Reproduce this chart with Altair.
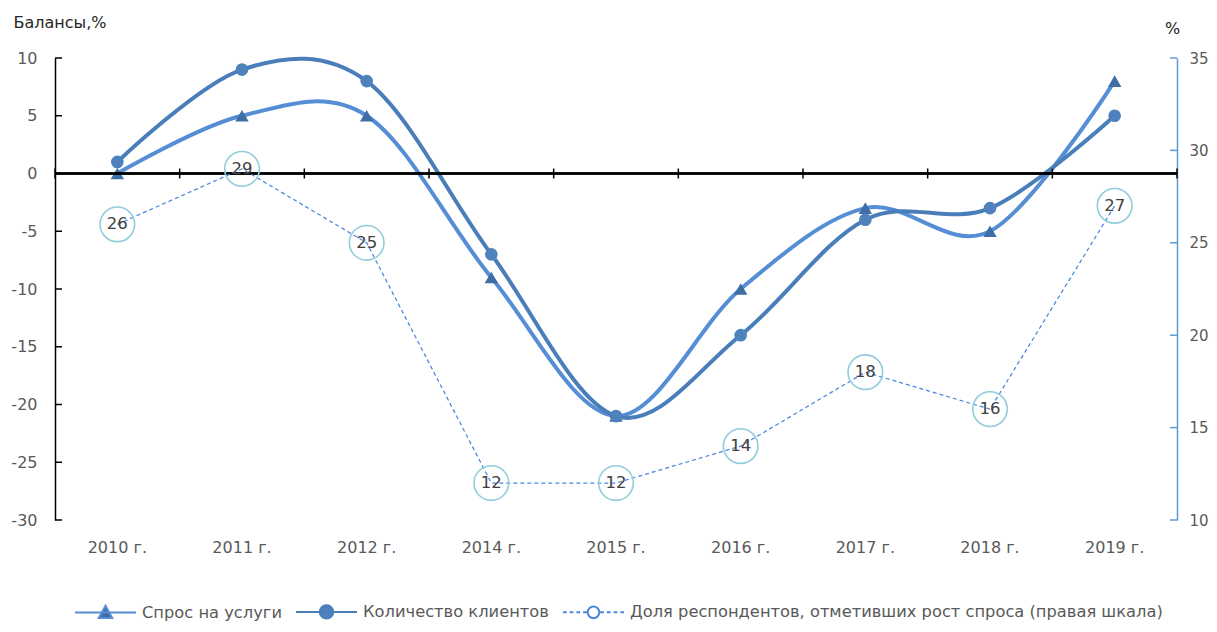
import altair as alt
import pandas as pd

# ---- data ----
years = ["2010 г.", "2011 г.", "2012 г.", "2014 г.", "2015 г.", "2016 г.", "2017 г.", "2018 г.", "2019 г."]
demand = [0, 5, 5, -9, -21, -10, -3, -5, 8]
clients = [1, 9, 8, -7, -21, -14, -4, -3, 5]
share = [26, 29, 25, 12, 12, 14, 18, 16, 27]
series_names = ["Спрос на услуги", "Количество клиентов",
                "Доля респондентов, отметивших рост спроса (правая шкала)"]
left_ticks = [-30, -25, -20, -15, -10, -5, 0, 5, 10]
right_ticks = [10, 15, 20, 25, 30, 35]

FONT = "DejaVu Sans"
W, H = 1122, 462
C1_LINE, C1_MARK = "#558ED5", "#3F6EA6"
C2_LINE, C2_MARK = "#4A7EBB", "#4F81BD"
C3_LINE, C3_MARK = "#4A86E0", "#92CDDC"
LABEL_GRAY = "#595959"

left_df = pd.DataFrame({
    "year": years * 2,
    "value": demand + clients,
    "series": [series_names[0]] * len(years) + [series_names[1]] * len(years),
})
right_df = pd.DataFrame({"year": years, "share": share})
lt_df = pd.DataFrame({"value": left_ticks})
rt_df = pd.DataFrame({"share": right_ticks})
legend_df = pd.DataFrame({"series": series_names, "year": years[:3], "value": [0, 0, 0]})

xscale = alt.Scale(domain=years, paddingInner=0, paddingOuter=0)
xaxis = alt.Axis(title=None, domain=False, ticks=False, labelAngle=0, labelPadding=19,
                 labelFont=FONT, labelFontSize=16, labelColor=LABEL_GRAY)
X = alt.X("year:N", scale=xscale, axis=xaxis, sort=years)

yl_scale = alt.Scale(domain=[-30, 10], nice=False, zero=False)
yl_axis = alt.Axis(title="Балансы,%", values=left_ticks, grid=False, ticks=False,
                   domainColor="#000000", domainWidth=1.5, labelPadding=18,
                   labelExpr="replace(datum.label, '−', '-')",
                   labelFont=FONT, labelFontSize=16, labelColor=LABEL_GRAY,
                   titleAngle=0, titleX=-42, titleY=-36, titleAlign="left",
                   titleBaseline="middle", titleFont=FONT, titleFontSize=16,
                   titleFontWeight="normal", titleColor="#262626")
YL = alt.Y("value:Q", scale=yl_scale, axis=yl_axis)

yr_scale = alt.Scale(domain=[10, 35], nice=False, zero=False)
yr_axis = alt.Axis(title="%", orient="right", values=right_ticks, grid=False, ticks=False,
                   domainColor="#5B9BD5", domainWidth=1.5, labelPadding=12,
                   labelFont=FONT, labelFontSize=15, labelColor=LABEL_GRAY,
                   titleAngle=0, titleX=-5, titleY=-30, titleAlign="center",
                   titleBaseline="middle", titleFont=FONT, titleFontSize=16,
                   titleFontWeight="normal", titleColor="#262626")
YR = alt.Y("share:Q", scale=yr_scale, axis=yr_axis)

# ---- left layers ----
lbase = alt.Chart(left_df)
s1 = lbase.transform_filter(alt.datum.series == series_names[0])
s2 = lbase.transform_filter(alt.datum.series == series_names[1])

line1 = s1.mark_line(color=C1_LINE, strokeWidth=4, interpolate="cardinal", tension=0).encode(x=X, y=YL)
line2 = s2.mark_line(color=C2_LINE, strokeWidth=4, interpolate="cardinal", tension=0).encode(x=X, y=YL)
pts1 = s1.mark_point(shape="triangle-up", filled=True, size=180, color=C1_MARK, opacity=1).encode(x=X, y=YL)
pts2 = s2.mark_point(shape="circle", filled=True, size=160, color=C2_MARK, opacity=1).encode(x=X, y=YL)

zero_line = alt.Chart(right_df).mark_rule(color="#000000", strokeWidth=1.5).encode(y=alt.datum(0))
zero_ticks = alt.Chart(right_df).mark_rule(color="#000000", strokeWidth=1.5, yOffset=-5, y2Offset=5).encode(
    x=alt.X("year:N", scale=xscale, axis=xaxis, sort=years, bandPosition=0),
    y=alt.datum(0), y2=alt.datum(0))
zero_tick_end = alt.Chart(right_df).transform_filter(alt.datum.year == years[-1]).mark_rule(
    color="#000000", strokeWidth=1.5, yOffset=-5, y2Offset=5).encode(
    x=alt.X("year:N", scale=xscale, axis=xaxis, sort=years, bandPosition=1),
    y=alt.datum(0), y2=alt.datum(0))
lticks = alt.Chart(lt_df).mark_rule(color="#000000", strokeWidth=1.5).encode(
    y=YL, x=alt.value(0), x2=alt.value(7))

# legend layer (no visible marks; legend entries from explicit domains)
leg_paths = [
    "M-1,0L1,0M-0.22,0.18L0,-0.22L0.22,0.18Z",
    "M-1,0L1,0M-0.22,0A0.22,0.22,0,1,1,0.22,0A0.22,0.22,0,1,1,-0.22,0Z",
    "M-1,0L-0.88,0M-0.78,0L-0.66,0M-0.56,0L-0.44,0M-0.34,0L-0.19,0M0.19,0L0.34,0M0.44,0L0.56,0M0.66,0L0.78,0M0.88,0L1,0"
    "M-0.19,0A0.19,0.19,0,1,1,0.19,0A0.19,0.19,0,1,1,-0.19,0Z",
]
SYM = 3721
LEG = alt.Legend(title=None, orient="none", legendX=19, legendY=522, direction="horizontal",
                 columns=3, columnPadding=10, labelOffset=5, symbolSize=SYM, labelLimit=0,
                 labelFont=FONT, labelFontSize=16.3, labelColor=LABEL_GRAY, symbolStrokeWidth=2)
legend_layer = alt.Chart(legend_df).transform_filter("false").mark_point(
    filled=True, size=SYM, strokeWidth=2, opacity=1).encode(
    x=X, y=YL,
    fill=alt.Fill("series:N", scale=alt.Scale(domain=series_names,
                                               range=[C1_MARK, C2_MARK, "transparent"]), legend=LEG),
    stroke=alt.Stroke("series:N", scale=alt.Scale(domain=series_names,
                                                   range=[C1_LINE, C2_LINE, C3_LINE]), legend=LEG),
    shape=alt.Shape("series:N", scale=alt.Scale(domain=series_names, range=leg_paths), legend=LEG),
)

left = alt.layer(line1, line2, pts1, pts2, zero_line, zero_ticks, zero_tick_end, lticks, legend_layer)

# ---- right layers ----
rbase = alt.Chart(right_df)
line3 = rbase.mark_line(color=C3_LINE, strokeWidth=1.25, strokeDash=[4, 3]).encode(x=X, y=YR)
pts3 = rbase.mark_point(shape="circle", filled=False, size=1200, color=C3_MARK, strokeWidth=1.6,
                        opacity=1).encode(x=X, y=YR)
txt3 = rbase.mark_text(font=FONT, fontSize=16.5, color="#404040").encode(
    x=X, y=YR, text=alt.Text("share:Q"))
rticks = alt.Chart(rt_df).mark_rule(color="#5B9BD5", strokeWidth=1.5).encode(
    y=YR, x=alt.value(W - 7), x2=alt.value(W))

right = alt.layer(line3, pts3, txt3, rticks)

chart = alt.layer(left, right).resolve_scale(y="independent").properties(
    width=W, height=H,
    autosize=alt.AutoSizeParams(type="none"),
    padding={"left": 47, "top": 50, "right": 32, "bottom": 104},
    background="white",
).configure_view(stroke=None)

chart.save("out.html", embed_options={"renderer": "svg", "actions": False})
